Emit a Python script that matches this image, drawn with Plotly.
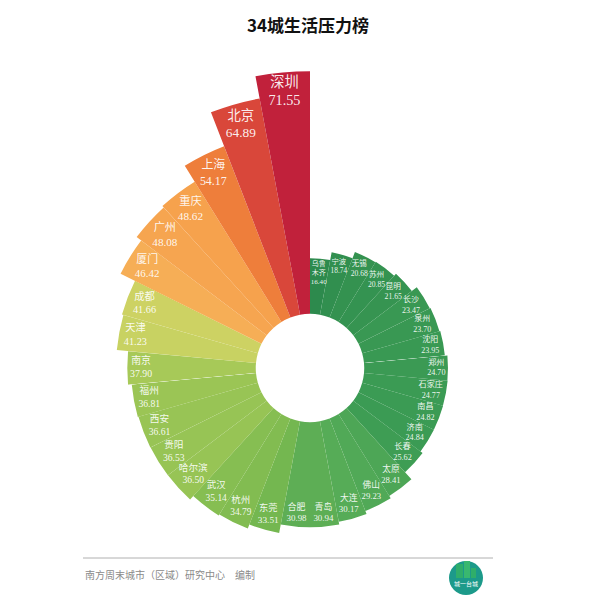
import math
import plotly.graph_objects as go

cities = ["乌鲁<br>木齐", "宁波", "无锡", "苏州", "昆明", "长沙", "泉州", "沈阳", "郑州", "石家庄",
          "南昌", "济南", "长春", "太原", "佛山", "大连", "青岛", "合肥", "东莞", "杭州",
          "武汉", "哈尔滨", "贵阳", "西安", "福州", "南京", "天津", "成都", "厦门", "广州",
          "重庆", "上海", "北京", "深圳"]
values = [16.40, 18.74, 20.68, 20.85, 21.65, 23.47, 23.70, 23.95, 24.70, 24.77,
          24.82, 24.84, 25.62, 28.41, 29.23, 30.17, 30.94, 30.98, 33.51, 34.79,
          35.14, 36.50, 36.53, 36.61, 36.81, 37.90, 41.23, 41.66, 46.42, 48.08,
          48.62, 54.17, 64.89, 71.55]

n = len(values)
step = 360.0 / n
thetas = [(i + 0.5) * step for i in range(n)]

vmin, vmax = min(values), max(values)
stops = [(16.4, "#2d8a4d"), (25.0, "#3b9b54"), (30.0, "#55ab57"), (34.0, "#78b94f"),
         (37.5, "#a3c857"), (41.5, "#cbd363"), (45.0, "#f6b65c"), (48.7, "#f6a24d"),
         (54.2, "#ee7e3b"), (64.9, "#d9473a"), (71.55, "#c1213b")]
colorscale = [[(v - vmin) / (vmax - vmin), c] for v, c in stops]

# ---- geometry (pixels, origin top-left) ----
W = H = 600
cx, cy = 302.0, 360.0
r0 = -16.0            # radial value at the centre
k = 3.39              # pixels per radial unit
RA, RB = 298.0, 230.0  # radii of the upper and lower half subplots
split = 8             # first bar of the lower half
half = n // 2         # bars per half
a_start = 90 - split * step          # geometric angle of split (ccw from east)
secA = [a_start, a_start + 180]
secB = [a_start + 180, a_start + 360]
ca, sa = math.cos(math.radians(a_start)), math.sin(math.radians(a_start))


def dom(x0, x1, y0, y1, R):
    left, right = cx + x0 * R, cx + x1 * R
    top, bottom = cy - y1 * R, cy - y0 * R
    return dict(x=[left / W, right / W], y=[1 - bottom / H, 1 - top / H])


domA = dom(-1, ca, -sa, 1, RA)
domB = dom(-ca, 1, -1, sa, RB)

idxB = list(range(split, split + half))
idxA = [i for i in range(n) if i not in idxB]

font_sizes = [7.0 + (v - 16) * 0.13 for v in values]


def text_r(i):
    fs = font_sizes[i]
    lines = cities[i].split("<br>") + [f"{values[i]:.2f}"]
    w = max(len(s) * (fs * 0.5 if s[0].isdigit() else fs) for s in lines)
    h = len(lines) * fs * 1.2
    t = math.radians(thetas[i])
    e = w / 2 * abs(math.sin(t)) + h / 2 * abs(math.cos(t)) + 1.5
    return values[i] - e / k


labels = [f"{c}<br>{v:.2f}" for c, v in zip(cities, values)]
label_font = "Liberation Serif, Noto Sans CJK SC"

fig = go.Figure()
for sub, idx in (("polar", idxA), ("polar2", idxB)):
    fig.add_trace(go.Barpolar(
        r=[values[i] for i in idx], theta=[thetas[i] for i in idx], width=[step] * len(idx),
        marker=dict(color=[values[i] for i in idx], colorscale=colorscale, cmin=vmin, cmax=vmax,
                    line=dict(width=0)),
        hoverinfo="skip", showlegend=False, subplot=sub,
    ))
    fig.add_trace(go.Scatterpolar(
        r=[text_r(i) for i in idx], theta=[thetas[i] for i in idx], mode="text",
        text=[labels[i] for i in idx], cliponaxis=False,
        textfont=dict(color="rgba(255,255,255,0.92)", size=[font_sizes[i] for i in idx],
                      family=label_font),
        hoverinfo="skip", showlegend=False, subplot=sub,
    ))

common = dict(bgcolor="rgba(0,0,0,0)", hole=0,
              angularaxis=dict(visible=False, rotation=90, direction="clockwise"))

fig.update_layout(
    width=W, height=H,
    margin=dict(l=0, r=0, t=0, b=0),
    paper_bgcolor="white", plot_bgcolor="white",
    title=dict(text="<b>34城生活压力榜</b>", x=0.5, xanchor="center",
               y=1 - 18 / 600, yanchor="middle",
               font=dict(size=17, color="#111", family="Noto Sans CJK SC")),
    polar=dict(domain=domA, sector=secA,
               radialaxis=dict(visible=False, range=[r0, r0 + RA / k]), **common),
    polar2=dict(domain=domB, sector=secB,
                radialaxis=dict(visible=False, range=[r0, r0 + RB / k]), **common),
    shapes=[
        dict(type="line", xref="paper", yref="paper", x0=75 / 600, x1=485 / 600,
             y0=1 - 550 / 600, y1=1 - 550 / 600, line=dict(color="#b0b0b0", width=1)),
        dict(type="circle", xref="paper", yref="paper", x0=441 / 600, x1=475 / 600,
             y0=1 - 587 / 600, y1=1 - 553 / 600, fillcolor="#1c9a8a", line=dict(width=0)),
        dict(type="rect", xref="paper", yref="paper", x0=448 / 600, x1=455 / 600,
             y0=1 - 570 / 600, y1=1 - 556 / 600, fillcolor="#2fae6a", line=dict(width=0)),
        dict(type="rect", xref="paper", yref="paper", x0=456 / 600, x1=462 / 600,
             y0=1 - 570 / 600, y1=1 - 553 / 600, fillcolor="#39b86f", line=dict(width=0)),
        dict(type="rect", xref="paper", yref="paper", x0=463 / 600, x1=468 / 600,
             y0=1 - 570 / 600, y1=1 - 560 / 600, fillcolor="#2fae6a", line=dict(width=0)),
    ],
    annotations=[
        dict(text="南方周末城市（区域）研究中心　编制", xref="paper", yref="paper",
             x=75 / 600, y=1 - 566 / 600, xanchor="left", yanchor="middle",
             showarrow=False, font=dict(size=10, color="#8a8a8a", family="Noto Sans CJK SC")),
        dict(text="城一台城", xref="paper", yref="paper", x=458 / 600, y=1 - 575 / 600,
             xanchor="center", yanchor="middle", showarrow=False,
             font=dict(size=6, color="white", family="Noto Sans CJK SC")),
    ],
)

fig.write_html("out.html")
